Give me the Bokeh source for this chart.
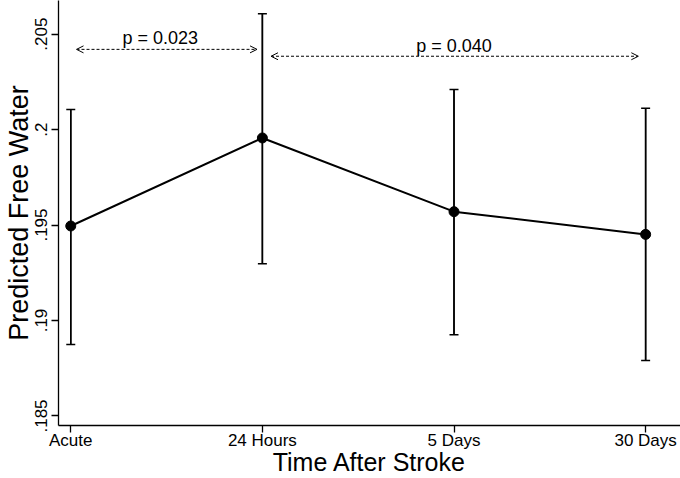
from bokeh.plotting import figure
from bokeh.models import Range1d, FixedTicker, Arrow, OpenHead, Whisker, ColumnDataSource, TeeHead
from bokeh.core.properties import value
from bokeh.embed import file_html
from bokeh.resources import INLINE

# ---- data ----
categories = ["Acute", "24 Hours", "5 Days", "30 Days"]
x_pos = [1, 2, 3, 4]
predicted = [0.19495, 0.19956, 0.19570, 0.19451]
ci_lower = [0.18874, 0.19297, 0.18925, 0.18790]
ci_upper = [0.20105, 0.20607, 0.20210, 0.20112]
y_ticks = [0.185, 0.19, 0.195, 0.2, 0.205]
y_tick_labels = [".185", ".19", ".195", ".2", ".205"]
p_labels = ["p = 0.023", "p = 0.040"]
x_title = "Time After Stroke"
y_title = "Predicted Free Water"

FONT = "Liberation Sans"

p = figure(width=680, height=478, output_backend="svg", toolbar_location=None,
           x_range=Range1d(0.936, 4.182), y_range=Range1d(0.184501, 0.206759),
           min_border_left=57, min_border_right=0, min_border_top=0, min_border_bottom=52)
p.outline_line_color = None
p.grid.visible = False
p.background_fill_color = "white"

src = ColumnDataSource(dict(x=x_pos, y=predicted, lo=ci_lower, hi=ci_upper))

p.segment(x0="x", y0="lo", x1="x", y1="hi", source=src, line_color="black", line_width=1.5)
w = Whisker(base="x", lower="lo", upper="hi", source=src, dimension="height",
            line_color="black", line_width=1.5,
            upper_head=TeeHead(size=9, line_width=1.5, line_color="black"),
            lower_head=TeeHead(size=9, line_width=1.5, line_color="black"))
p.add_layout(w)
p.line(x="x", y="y", source=src, line_color="black", line_width=2)
p.scatter(x="x", y="y", source=src, size=10, fill_color="black", line_color="black")

# comparison arrows
arrows = [((1.03, 0.20420), (1.972, 0.20420)), ((2.045, 0.20384), (3.962, 0.20384))]
for (xs, ys), (xe, ye) in arrows:
    p.add_layout(Arrow(x_start=xs, y_start=ys, x_end=xe, y_end=ye,
                       line_color="black", line_width=1, line_dash="3 2",
                       start=OpenHead(size=7, line_width=1, line_color="black"),
                       end=OpenHead(size=7, line_width=1, line_color="black")))
lab_src = ColumnDataSource(dict(x=[1.467, 3.0], y=[0.20482, 0.20438], t=p_labels))
p.text(x="x", y="y", text="t", source=lab_src, text_align="center",
       text_baseline="middle", text_font=value(FONT), text_font_size="18px",
       text_color="black")

# axes
p.xaxis.ticker = FixedTicker(ticks=x_pos)
p.xaxis.major_label_overrides = {x: c for x, c in zip(x_pos, categories)}
p.yaxis.ticker = FixedTicker(ticks=y_ticks)
p.yaxis.major_label_overrides = {t: l for t, l in zip(y_ticks, y_tick_labels)}
p.yaxis.major_label_orientation = "vertical"
for ax in (p.xaxis, p.yaxis):
    ax.axis_line_color = "black"
    ax.axis_line_width = 1.3
    ax.major_tick_line_color = "black"
    ax.major_tick_line_width = 1.3
    ax.major_tick_out = 7
    ax.major_tick_in = 0
    ax.minor_tick_line_color = None
    ax.major_label_text_font = FONT
    ax.major_label_text_color = "black"
    ax.axis_label_text_font = FONT
    ax.axis_label_text_font_style = "normal"
    ax.axis_label_text_color = "black"
p.xaxis.axis_label = x_title
p.yaxis.axis_label = y_title
p.xaxis.axis_label_text_font_size = "25px"
p.yaxis.axis_label_text_font_size = "27px"
p.xaxis.major_label_text_font_size = "17px"
p.yaxis.major_label_text_font_size = "17px"
p.xaxis.major_label_standoff = -2
p.yaxis.major_label_standoff = 4
p.xaxis.axis_label_standoff = -5
p.yaxis.axis_label_standoff = -1

open("out.html", "w").write(file_html(p, INLINE))
